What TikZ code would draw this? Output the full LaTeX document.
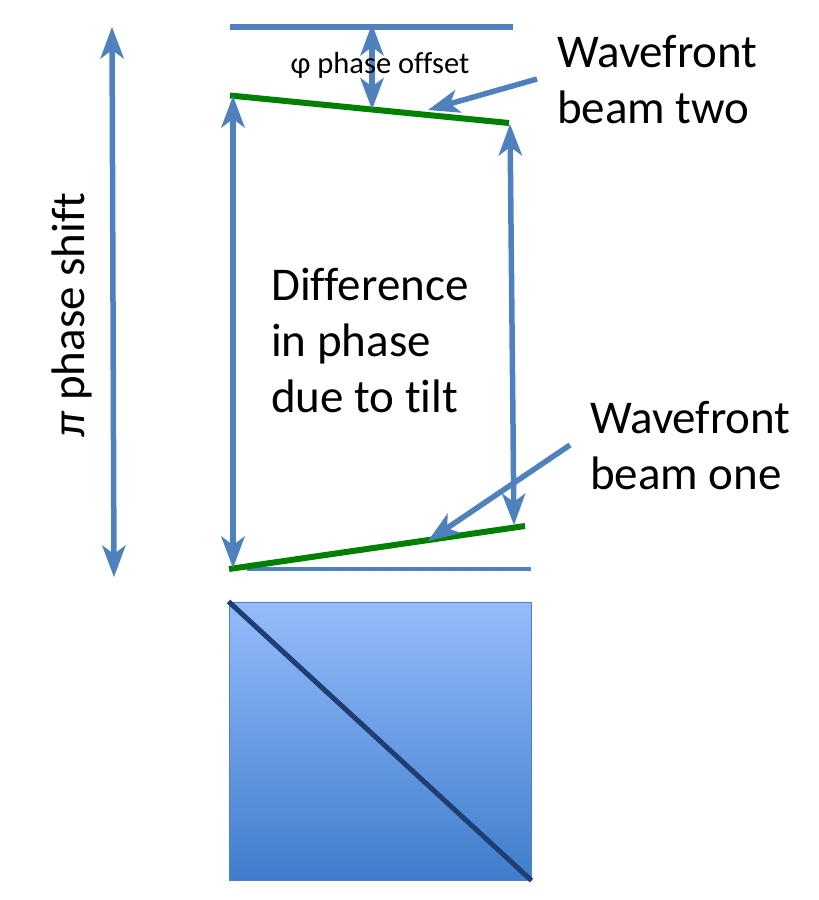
\documentclass[tikz,border=0pt]{standalone}
\usepackage{fontspec}
\setmainfont{Carlito}[Ligatures=NoCommon]
\usetikzlibrary{arrows.meta}
\definecolor{beamblue}{HTML}{4F81BD}
\definecolor{wavegreen}{HTML}{008000}
\definecolor{cubetop}{HTML}{95BCFC}
\definecolor{cubebottom}{HTML}{3F7DCC}
\definecolor{splitblue}{HTML}{1F3F73}
\tikzset{
	beamtip/.tip={Stealth[length=32pt,width=24pt,inset=9pt,line width=0pt,fill=beamblue]},
	tip/.style={-beamtip},
	both/.style={beamtip-beamtip},
	beam/.style={draw=beamblue, line width=5.5pt},
	wave/.style={draw=wavegreen, line width=6pt},
	big/.style={font=\fontsize{47}{56}\selectfont, align=left, anchor=north west, inner sep=0pt},
}
\begin{document}
\begin{tikzpicture}[x=1pt, y=-1pt]
		\useasboundingbox (0,0) rectangle (819,900);
		\coordinate (top_l) at (230,27);
		\coordinate (top_r) at (513,27);
		\coordinate (two_l) at (230,95.5);
		\coordinate (two_r) at (509,123);
		\coordinate (two_m) at (372,109.5);
		\coordinate (one_l) at (229,569);
		\coordinate (one_r) at (525,526);
		\coordinate (base_l) at (247,569);
		\coordinate (base_r) at (531,569);
		\coordinate (pi_t) at (112,27);
		\coordinate (pi_b) at (114,577);
		\coordinate (top_m) at (372,24);
		\coordinate (left_t) at (233,96);
		\coordinate (left_b) at (233,568);
		\coordinate (right_t) at (510,124);
		\coordinate (right_b) at (514,525);
		\coordinate (ptr2_s) at (537,79);
		\coordinate (ptr2_e) at (428,110);
		\coordinate (ptr1_s) at (570,445);
		\coordinate (ptr1_e) at (428,541);
		
		\node[draw=beamblue, line width=1pt, top color=cubetop, bottom color=cubebottom, minimum width=302pt, minimum height=278pt, inner sep=0pt] (cube) at (380,741) {};
		\draw[splitblue, line width=5pt] (cube.north west) -- (cube.south east);
		
		\path[beam]
		(top_l) edge (top_r)
		(base_l) edge [line width=4.5pt] (base_r);
		\path[wave]
		(two_l) edge (two_r)
		(one_l) edge (one_r);
		\path[beam]
		(pi_t) edge [both] (pi_b)
		(top_m) edge [both] (two_m)
		(left_t) edge [both] (left_b)
		(right_t) edge [both] (right_b)
		(ptr2_s) edge [tip] (ptr2_e)
		(ptr1_s) edge [tip] (ptr1_e);
		
		\node[font=\fontsize{30.5}{34}\selectfont] (offset) at (380,65) {φ phase offset};
		\node[big] (beam_two) at (557,35) {Wavefront\\beam two};
		\node[big] (beam_one) at (590,401) {Wavefront\\beam one};
		\node[big] (diff) at (271,268) {Difference\\in phase\\due to tilt};
		\node[big, rotate=90, anchor=center] (shift) at (72,315) {{\itshape π} phase shift};
\end{tikzpicture}
\end{document}
